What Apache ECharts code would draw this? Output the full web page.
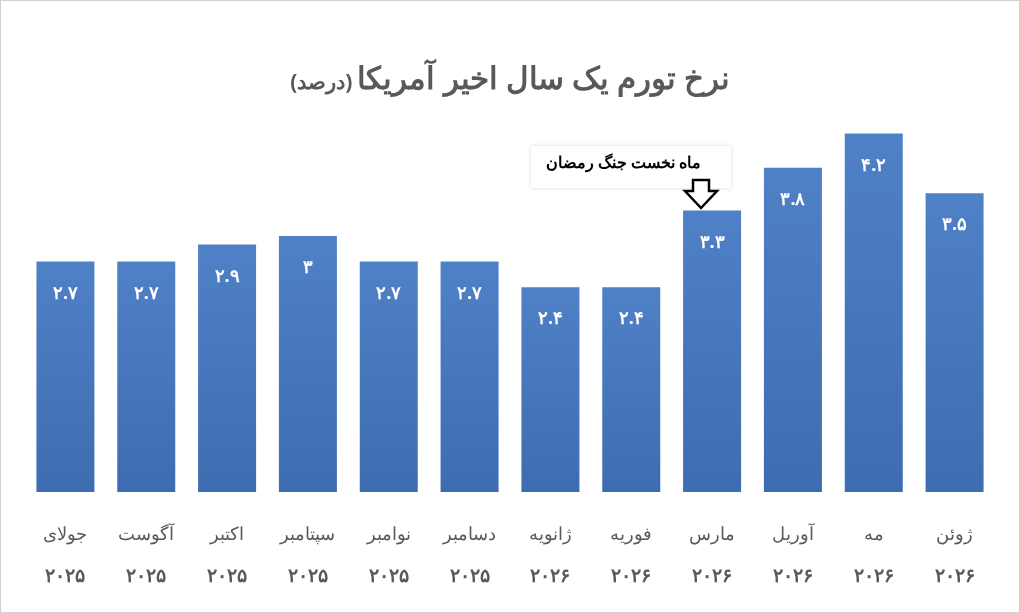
<!DOCTYPE html>
<html><head><meta charset="utf-8">
<script src="https://cdn.jsdelivr.net/npm/echarts@6/dist/echarts.min.js"></script>
<style>html,body{margin:0;padding:0;background:#fff}#c{width:1020px;height:613px;box-sizing:border-box;border:1px solid #d0d0d0}</style>
</head><body><div id="c"></div>
<script>
var months = ['جولای', 'آگوست', 'اکتبر', 'سپتامبر', 'نوامبر', 'دسامبر', 'ژانویه', 'فوریه', 'مارس', 'آوریل', 'مه', 'ژوئن'];
var years = ['2025', '2025', '2025', '2025', '2025', '2025', '2026', '2026', '2026', '2026', '2026', '2026'];
var values = [2.7, 2.7, 2.9, 3, 2.7, 2.7, 2.4, 2.4, 3.3, 3.8, 4.2, 3.5];

var fa = function (s) {
    return String(s).replace(/[0-9]/g, function (d) { return '۰۱۲۳۴۵۶۷۸۹'[d]; });
};

var chart = echarts.init(document.getElementById('c'));
chart.setOption({
    backgroundColor: '#ffffff',
    title: {
        text: '{n|(درصد)} {b|نرخ تورم یک سال اخیر آمریکا}',
        left: 'center',
        top: 59,
        textStyle: {
            rich: {
                b: { fontFamily: 'Noto Sans', fontSize: 31, fontWeight: 'bold', color: '#595959' },
                n: { fontFamily: 'Noto Sans', fontSize: 21, color: '#595959', padding: [6, 0, 0, 0] }
            }
        }
    },
    grid: { left: 24, right: 24, top: 107, bottom: 120 },
    xAxis: {
        type: 'category',
        data: months,
        axisLine: { show: false },
        axisTick: { show: false },
        axisLabel: {
            interval: 0,
            margin: 22,
            lineHeight: 42,
            color: '#595959',
            fontFamily: 'Noto Sans',
            fontSize: 18,
            formatter: function (v, i) { return v + '\n{y|' + fa(years[i]) + '}'; },
            rich: { y: { fontSize: 19, fontWeight: 'bold', color: '#595959', fontFamily: 'Noto Sans' } }
        }
    },
    yAxis: { type: 'value', min: 0, max: 4.5, show: false, splitLine: { show: false } },
    series: [{
        type: 'bar',
        data: values,
        barWidth: 58,
        itemStyle: {
            color: new echarts.graphic.LinearGradient(0, 0, 0, 1, [
                { offset: 0, color: '#4f81c6' },
                { offset: 1, color: '#3e6cb0' }
            ])
        },
        label: {
            show: true,
            position: 'insideTop',
            distance: 23,
            color: '#ffffff',
            fontWeight: 'bold',
            fontFamily: 'Noto Sans',
            fontSize: 18,
            formatter: function (p) { return fa(p.value); }
        }
    }],
    graphic: [
        {
            type: 'rect', left: 530, top: 145,
            shape: { width: 200, height: 42 },
            style: { fill: '#ffffff', shadowBlur: 4, shadowColor: 'rgba(0,0,0,0.15)' }
        },
        {
            type: 'text', left: 545, top: 154,
            style: { text: 'ماه نخست جنگ رمضان', font: 'bold 16px "Noto Sans"', fill: '#000' }
        },
        {
            type: 'polygon',
            shape: { points: [[692, 179], [708, 179], [708, 190], [716, 190], [700, 207], [684, 190], [692, 190]] },
            style: { fill: '#ffffff', stroke: '#000', lineWidth: 2.5 }
        }
    ]
});
</script>
</body></html>
